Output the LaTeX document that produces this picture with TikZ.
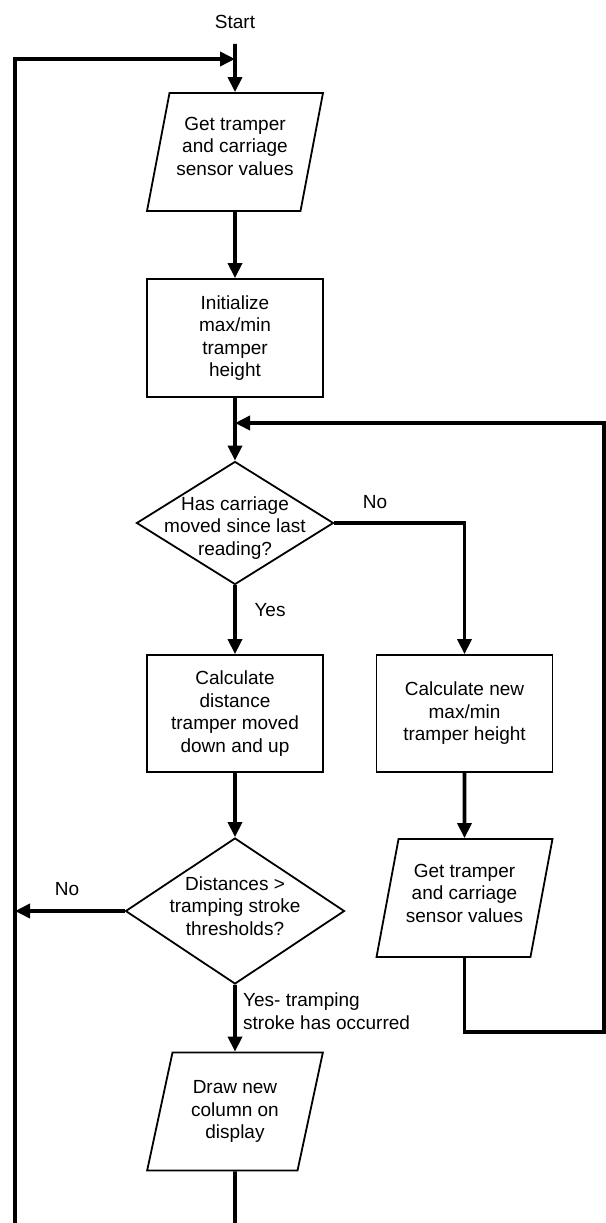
\documentclass[tikz,border=0pt]{standalone}
\usepackage{fontspec}
\setmainfont{Liberation Sans}
\usetikzlibrary{shapes.geometric, arrows.meta}

\begin{document}
\begin{tikzpicture}[
    x=1pt, y=-1pt,
    font=\fontsize{19}{22.5}\selectfont,
    txt/.style={align=center, inner sep=0pt},
    process/.style={draw, rectangle, line width=1.8pt, minimum width=176pt, minimum height=118pt, inner sep=0pt, align=center},
    io/.style={draw, trapezium, trapezium left angle=74, trapezium right angle=106, trapezium stretches=true, line width=1.8pt, minimum width=176pt, minimum height=118pt, inner sep=0pt, align=center},
    decision/.style={draw, diamond, line width=1.8pt, inner sep=0pt},
    arrow/.style={-{Triangle[length=15pt, width=14pt]}, line width=3.6pt},
    link/.style={line width=3.6pt}
]
\useasboundingbox (0,0) rectangle (605,1223);

% Main column
\node[txt] (start) at (235,22) {Start};
\node[io, text depth=12pt] (in1) at (235,152) {Get tramper\\and carriage\\sensor values};
\node[process] (init) at (235,338) {Initialize\\max/min\\tramper\\height};
\node[decision, minimum width=197pt, minimum height=123pt, label={[txt, name=d1text, yshift=-5pt]center:{Has carriage\\moved since last\\reading?}}] (d1) at (235,523) {};
\node[process, minimum height=117pt] (calcd) at (235,713.5) {Calculate\\distance\\tramper moved\\down and up};
\node[decision, minimum width=219pt, minimum height=146pt, label={[txt, name=d2text, yshift=5pt]center:{Distances >\\tramping stroke\\thresholds?}}] (d2) at (235,911) {};
\node[io] (show) at (235,1111.5) {Draw new\\column on\\display};

% Side column
\node[process, minimum height=117pt] (calcn) at (464.5,713.5) {Calculate new\\max/min\\tramper height};
\node[io, text depth=10pt] (in2) at (464.5,898) {Get tramper\\and carriage\\sensor values};

% Branch labels
\node[txt] (no1) at (375,502) {No};
\node[txt] (yes1) at (270,610) {Yes};
\node[txt] (no2) at (67,889) {No};
\node[txt, align=left, anchor=west] (yes2) at (243,1011) {Yes- tramping\\stroke has occurred};

% Loop corners and open ends
\coordinate (entry) at (235,59);
\coordinate (merge) at (235,423);
\coordinate (rloop) at (604,1032);
\coordinate (leftfoot) at (15,1223);
\coordinate (showfoot) at (235,1223);

% Flow
\draw[arrow] ([yshift=-15pt]start.south) -- (in1);
\draw[arrow] (leftfoot) |- (entry);
\draw[arrow] (in1) -- (init);
\draw[arrow] (init) -- (d1);
\draw[arrow] (d1.east) -| (calcn);
\draw[arrow] (d1) -- (calcd);
\draw[arrow] (calcd) -- (d2);
\draw[arrow] (d2.west) -- (d2.west -| leftfoot);
\draw[arrow] (d2) -- (show);
\draw[arrow] (calcn) -- (in2);
\draw[arrow] (in2) |- (rloop) |- (merge);
\draw[link] (show) -- (showfoot);

\end{tikzpicture}
\end{document}
